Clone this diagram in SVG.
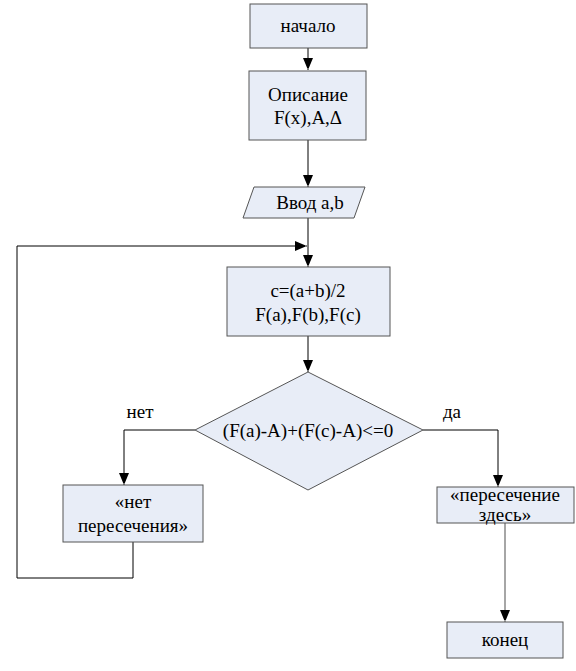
<svg xmlns="http://www.w3.org/2000/svg" width="576" height="671" viewBox="0 0 576 671">
<style>
.n{fill:#e8edf7;stroke:#555;stroke-width:1}
text{font-size:19px;fill:#000;text-anchor:middle}
.c{fill:none;stroke:#000;stroke-width:1}
.g{fill:none;stroke:#888;stroke-width:1.5}
</style>
<defs>
<marker id="a" markerWidth="10" markerHeight="12" refX="12" refY="5" orient="auto" markerUnits="userSpaceOnUse"><path d="M0,0 L12,5 L0,10 z" fill="#000"/></marker>
</defs>
<rect width="576" height="671" fill="#fff"/>
<g font-family="Liberation Serif, Times New Roman, DejaVu Serif, serif">
<g id="connectors">
<path class="c" d="M308,48 V70" marker-end="url(#a)"/>
<path class="c" d="M308,140 V187" marker-end="url(#a)"/>
<path class="c" d="M308,218 V267" marker-end="url(#a)"/>
<path class="c" d="M308,336 V372" marker-end="url(#a)"/>
<path class="c" d="M195,430 H124 V485" marker-end="url(#a)"/>
<path class="c" d="M423,430 H498 V487" marker-end="url(#a)"/>
<path class="c" d="M133,542 V578 H17 V246 H307" marker-end="url(#a)"/>
<path class="g" d="M505,523 V622" marker-end="url(#a)"/>
<text x="140" y="418">нет</text>
<text x="452" y="418">да</text>
</g>
<g id="start"><rect class="n" x="250" y="4" width="117" height="44"/><text x="308" y="32">начало</text></g>
<g id="desc"><rect class="n" x="249" y="71" width="117" height="69"/><text x="308" y="101">Описание</text><text x="308" y="124">F(x),A,Δ</text></g>
<g id="input"><polygon class="n" points="254,187 365,187 354,218 243,218"/><text x="310" y="209">Ввод a,b</text></g>
<g id="calc"><rect class="n" x="227" y="267" width="163" height="69"/><text x="308" y="297">c=(a+b)/2</text><text x="308" y="321">F(a),F(b),F(c)</text></g>
<g id="cond"><polygon class="n" points="308,372 423,430 308,490 195,430"/><text x="308" y="437">(F(a)-A)+(F(c)-A)&lt;=0</text></g>
<g id="no"><rect class="n" x="63" y="485" width="140" height="57"/><text x="133" y="508">«нет</text><text x="133" y="532">пересечения»</text></g>
<g id="yes"><rect class="n" x="437" y="487" width="137" height="36"/><text x="505" y="501">«пересечение</text><text x="505" y="521">здесь»</text></g>
<g id="end"><rect class="n" x="447" y="622" width="116" height="36"/><text x="505" y="646">конец</text></g>
</g>
</svg>
